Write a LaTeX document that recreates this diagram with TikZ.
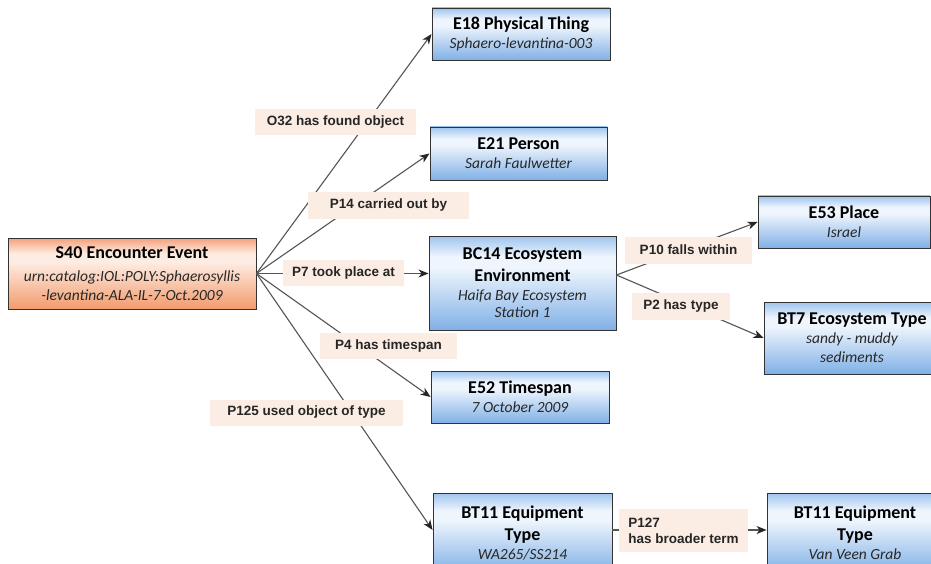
\documentclass[tikz,border=0pt]{standalone}
\usepackage{fontspec}
\setmainfont{Carlito}
\newfontfamily\labfont{Liberation Sans}
\usetikzlibrary{arrows.meta}

\definecolor{bluetop}{RGB}{158,196,238}
\definecolor{bluebot}{RGB}{128,176,230}
\definecolor{bluemid}{RGB}{238,245,253}
\definecolor{orgtop}{RGB}{244,160,122}
\definecolor{orgbot}{RGB}{243,155,108}
\definecolor{orgmid}{RGB}{253,236,226}
\definecolor{labfill}{RGB}{252,237,228}
\definecolor{edgegray}{RGB}{85,85,85}
\definecolor{subtext}{RGB}{40,40,40}

\pgfdeclareverticalshading{bluegrad}{100bp}{%
  color(0bp)=(bluebot); color(25bp)=(bluebot); color(58bp)=(bluemid);
  color(64bp)=(bluemid); color(75bp)=(bluetop); color(100bp)=(bluetop)}
\pgfdeclareverticalshading{orggrad}{100bp}{%
  color(0bp)=(orgbot); color(25bp)=(orgbot); color(58bp)=(orgmid);
  color(64bp)=(orgmid); color(75bp)=(orgtop); color(100bp)=(orgtop)}

\tikzset{
  entity/.style={draw=black!80, line width=0.9pt, shading=bluegrad,
    inner sep=0pt, align=center, text=black,
    font=\fontsize{15.5}{19}\selectfont},
  event/.style={entity, shading=orggrad},
  prop/.style={fill=labfill, inner sep=0pt,
    font=\labfont\bfseries\fontsize{13.5}{16}\selectfont, text=black!85},
  link/.style={draw=edgegray, line width=1.1pt,
    -{Stealth[length=10pt,width=8pt,inset=3pt,color=black!85]}},
}
\newcommand{\ttl}[1]{{\bfseries\fontsize{18}{19}\selectfont #1}}
\newcommand{\sub}[1]{{\itshape\fontsize{15.5}{19}\selectfont\color{subtext}#1}}

\begin{document}
\begin{tikzpicture}[x=1pt,y=-1pt]
\useasboundingbox[fill=white] (0,0) rectangle (931,564);

% entity boxes
\node[event, minimum width=248pt, minimum height=71pt] (s40) at (132,273.5)
  {\ttl{S40 Encounter Event}\\[4pt]\sub{urn:catalog:IOL:POLY:Sphaerosyllis}\\\sub{-levantina-ALA-IL-7-Oct.2009}};
\node[entity, minimum width=178pt, minimum height=52pt] (e18) at (521,34)
  {\ttl{E18 Physical Thing}\\\sub{Sphaero-levantina-003}};
\node[entity, minimum width=177pt, minimum height=53pt] (e21) at (518.5,153.5)
  {\ttl{E21 Person}\\\sub{Sarah Faulwetter}};
\node[entity, minimum width=187pt, minimum height=94pt] (bc14) at (522.5,283)
  {\ttl{BC14 Ecosystem}\\[3pt]\ttl{Environment}\\\sub{Haifa Bay Ecosystem}\\[-2pt]\sub{Station 1}};
\node[entity, minimum width=172pt, minimum height=52pt] (e53) at (844,222)
  {\ttl{E53 Place}\\\sub{Israel}};
\node[entity, minimum width=176pt, minimum height=72pt] (bt7) at (852,338)
  {\ttl{BT7 Ecosystem Type}\\\sub{sandy - muddy}\\\sub{sediments}};
\node[entity, minimum width=178pt, minimum height=52pt] (e52) at (520,397)
  {\ttl{E52 Timespan}\\\sub{7 October 2009}};
\node[entity, minimum width=179pt, minimum height=80pt] (bt11a) at (522.5,533)
  {\ttl{BT11 Equipment}\\[3pt]\ttl{Type}\\\sub{WA265/SS214}};
\node[entity, minimum width=176pt, minimum height=80pt] (bt11b) at (855,533)
  {\ttl{BT11 Equipment}\\[3pt]\ttl{Type}\\\sub{Van Veen Grab}};

% connectors
\coordinate (bcout) at ([yshift=8pt]bc14.east);
\draw[link] (s40.east) -- (e18.west);
\draw[link] (s40.east) -- (e21.west);
\draw[link] (s40.east) -- (s40.east -| bc14.west);
\draw[link] (s40.east) -- (e52.west);
\draw[link] (s40.east) -- ([yshift=3pt]bt11a.west);
\draw[link] (bcout) -- (e53.west);
\draw[link] (bcout) -- (bt7.west);
\draw[link] ([yshift=3pt]bt11a.east) -- ([yshift=3pt]bt11b.west);

% property labels
\node[prop, minimum width=161pt, minimum height=26pt] (p-o32) at (335.5,122) {O32 has found object};
\node[prop, minimum width=161pt, minimum height=26pt] (p-p14) at (388.5,205.5) {P14 carried out by};
\node[prop, minimum width=121pt, minimum height=26pt] (p-p7) at (343.5,273) {P7 took place at};
\node[prop, minimum width=137pt, minimum height=26pt] (p-p4) at (388.5,346) {P4 has timespan};
\node[prop, minimum width=193pt, minimum height=26pt] (p-p125) at (306.5,412.5) {P125 used object of type};
\node[prop, minimum width=127pt, minimum height=27pt] (p-p10) at (688.5,250) {P10 falls within};
\node[prop, minimum width=98pt, minimum height=27pt] (p-p2) at (681,306.5) {P2 has type};
\node[prop, minimum width=129pt, minimum height=43pt, align=left] (p-p127) at (683.5,530.5)
  {P127\\has broader term};
\end{tikzpicture}
\end{document}
